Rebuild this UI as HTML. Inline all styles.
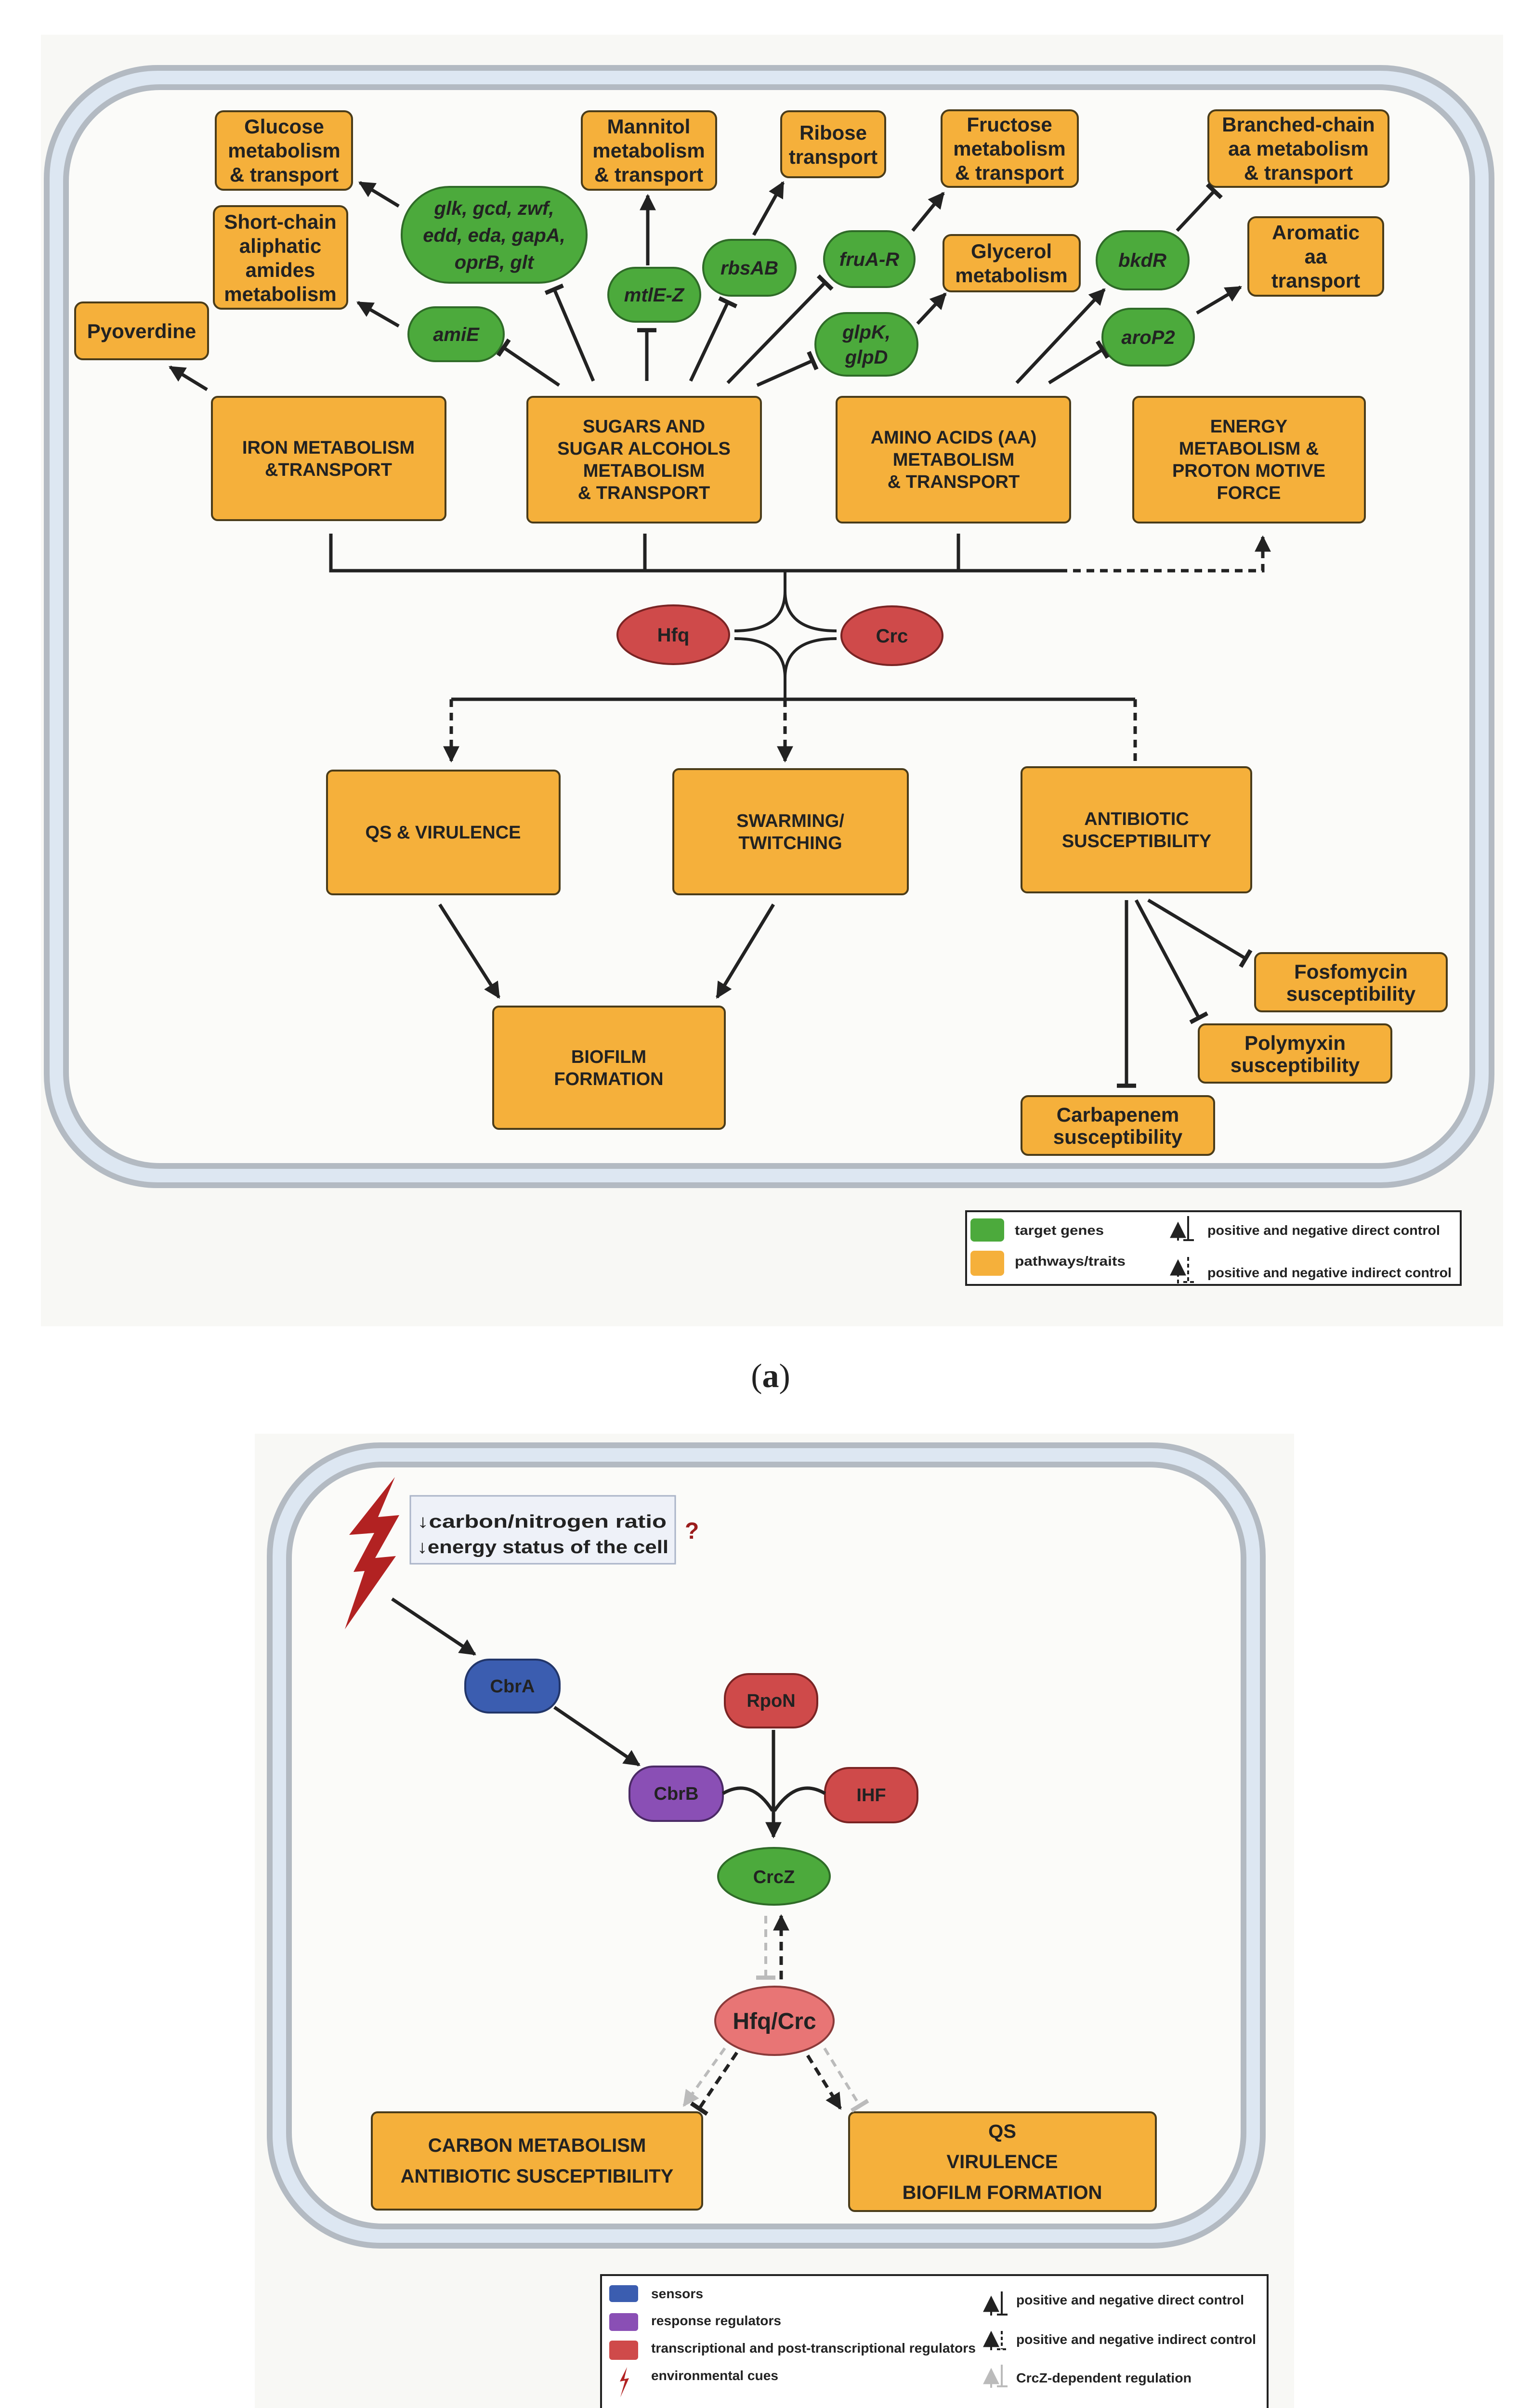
<!DOCTYPE html>
<html><head><meta charset="utf-8"><style>
html,body{margin:0;padding:0;background:#fff;width:3154px;height:5197px;overflow:hidden}
svg{display:block}
text{font-family:"Liberation Sans",Arial,sans-serif;font-weight:bold;fill:#222}
</style></head><body>
<svg width="3154" height="5197" viewBox="0 0 3154 5197" xmlns="http://www.w3.org/2000/svg">
<defs>
<marker id="ar" viewBox="0 0 10 10" refX="9" refY="5" markerWidth="34" markerHeight="34" markerUnits="userSpaceOnUse" orient="auto"><path d="M0,0 L10,5 L0,10 z" fill="#222"/></marker>
<marker id="tb" viewBox="0 0 10 10" refX="8" refY="5" markerWidth="40" markerHeight="40" markerUnits="userSpaceOnUse" orient="auto"><rect x="7" y="0" width="2.2" height="10" fill="#222"/></marker>
<marker id="arg" viewBox="0 0 10 10" refX="9" refY="5" markerWidth="34" markerHeight="34" markerUnits="userSpaceOnUse" orient="auto"><path d="M0,0 L10,5 L0,10 z" fill="#bbb"/></marker>
<marker id="tbg" viewBox="0 0 10 10" refX="8" refY="5" markerWidth="40" markerHeight="40" markerUnits="userSpaceOnUse" orient="auto"><rect x="7" y="0" width="2.2" height="10" fill="#bbb"/></marker>
</defs>

<!-- ===== PANEL A ===== -->
<rect x="85" y="72" width="3036" height="2682" fill="#f8f8f5"/>
<rect x="97" y="141" width="3000" height="2320" rx="230" fill="#dde7f2" stroke="#b3bac2" stroke-width="12"/>
<rect x="137" y="181" width="2920" height="2240" rx="195" fill="#fbfbf9" stroke="#b3bac2" stroke-width="12"/>

<g fill="#f5b03b" stroke="#4a3c1a" stroke-width="4">
<rect x="448" y="231" width="283" height="163" rx="16"/>
<rect x="444" y="428" width="277" height="213" rx="16"/>
<rect x="156" y="628" width="276" height="118" rx="16"/>
<rect x="1208" y="231" width="279" height="163" rx="16"/>
<rect x="1622" y="231" width="216" height="137" rx="16"/>
<rect x="1955" y="229" width="283" height="159" rx="16"/>
<rect x="1959" y="488" width="283" height="117" rx="16"/>
<rect x="2509" y="229" width="374" height="159" rx="16"/>
<rect x="2592" y="451" width="280" height="163" rx="16"/>
<rect x="440" y="824" width="485" height="256" rx="12"/>
<rect x="1095" y="824" width="485" height="261" rx="12"/>
<rect x="1737" y="824" width="485" height="261" rx="12"/>
<rect x="2353" y="824" width="481" height="261" rx="12"/>
<rect x="679" y="1600" width="483" height="257" rx="12"/>
<rect x="1398" y="1597" width="487" height="260" rx="12"/>
<rect x="2121" y="1593" width="477" height="260" rx="12"/>
<rect x="1024" y="2090" width="481" height="254" rx="12"/>
<rect x="2606" y="1979" width="398" height="121" rx="14"/>
<rect x="2489" y="2127" width="400" height="121" rx="14"/>
<rect x="2121" y="2276" width="400" height="122" rx="14"/>
</g>
<g fill="#4caa3c" stroke="#2f6b28" stroke-width="4">
<rect x="834" y="388" width="384" height="199" rx="99"/>
<rect x="848" y="638" width="198" height="112" rx="56"/>
<rect x="1263" y="556" width="191" height="112" rx="56"/>
<rect x="1460" y="498" width="192" height="116" rx="58"/>
<rect x="1711" y="480" width="188" height="116" rx="58"/>
<rect x="1693" y="650" width="212" height="130" rx="65"/>
<rect x="2277" y="480" width="191" height="121" rx="60"/>
<rect x="2289" y="641" width="190" height="118" rx="59"/>
</g>
<g fill="#cf4a4a" stroke="#7a2424" stroke-width="4">
<ellipse cx="1398" cy="1318" rx="116" ry="61"/>
<ellipse cx="1852" cy="1320" rx="105" ry="61"/>
</g>

<g font-size="42" text-anchor="middle">
<text x="590" y="277">Glucose</text><text x="590" y="327">metabolism</text><text x="590" y="377">&amp; transport</text>
<text x="582" y="475">Short-chain</text><text x="582" y="525">aliphatic</text><text x="582" y="575">amides</text><text x="582" y="625">metabolism</text>
<text x="294" y="702">Pyoverdine</text>
<text x="1347" y="277">Mannitol</text><text x="1347" y="327">metabolism</text><text x="1347" y="377">&amp; transport</text>
<text x="1730" y="290">Ribose</text><text x="1730" y="340">transport</text>
<text x="2096" y="273">Fructose</text><text x="2096" y="323">metabolism</text><text x="2096" y="373">&amp; transport</text>
<text x="2100" y="536">Glycerol</text><text x="2100" y="586">metabolism</text>
<text x="2696" y="273">Branched-chain</text><text x="2696" y="323">aa metabolism</text><text x="2696" y="373">&amp; transport</text>
<text x="2732" y="497">Aromatic</text><text x="2732" y="547">aa</text><text x="2732" y="597">transport</text>
<text x="2805" y="2032">Fosfomycin</text><text x="2805" y="2078">susceptibility</text>
<text x="2689" y="2180">Polymyxin</text><text x="2689" y="2226">susceptibility</text>
<text x="2321" y="2329">Carbapenem</text><text x="2321" y="2375">susceptibility</text>
</g>
<g font-size="38" text-anchor="middle">
<text x="682" y="942">IRON METABOLISM</text><text x="682" y="988">&amp;TRANSPORT</text>
<text x="1337" y="898">SUGARS AND</text><text x="1337" y="944">SUGAR ALCOHOLS</text><text x="1337" y="990">METABOLISM</text><text x="1337" y="1036">&amp; TRANSPORT</text>
<text x="1980" y="921">AMINO ACIDS (AA)</text><text x="1980" y="967">METABOLISM</text><text x="1980" y="1013">&amp; TRANSPORT</text>
<text x="2593" y="898">ENERGY</text><text x="2593" y="944">METABOLISM &amp;</text><text x="2593" y="990">PROTON MOTIVE</text><text x="2593" y="1036">FORCE</text>
<text x="920" y="1741">QS &amp; VIRULENCE</text>
<text x="1641" y="1717">SWARMING/</text><text x="1641" y="1763">TWITCHING</text>
<text x="2360" y="1713">ANTIBIOTIC</text><text x="2360" y="1759">SUSCEPTIBILITY</text>
<text x="1264" y="2207">BIOFILM</text><text x="1264" y="2253">FORMATION</text>
</g>
<g font-size="40" text-anchor="middle" font-style="italic">
<text x="1026" y="446">glk, gcd, zwf,</text><text x="1026" y="502">edd, eda, gapA,</text><text x="1026" y="558">oprB, glt</text>
<text x="947" y="708">amiE</text>
<text x="1358" y="626">mtlE-Z</text>
<text x="1556" y="570">rbsAB</text>
<text x="1805" y="552">fruA-R</text>
<text x="1799" y="703">glpK,</text><text x="1799" y="755">glpD</text>
<text x="2372" y="554">bkdR</text>
<text x="2384" y="714">aroP2</text>
</g>
<g font-size="40" text-anchor="middle">
<text x="1398" y="1332">Hfq</text><text x="1852" y="1334">Crc</text>
</g>

<g stroke="#222" stroke-width="7" fill="none">
<line x1="828" y1="428" x2="747" y2="379" marker-end="url(#ar)"/>
<line x1="828" y1="677" x2="743" y2="628" marker-end="url(#ar)"/>
<line x1="430" y1="809" x2="353" y2="762" marker-end="url(#ar)"/>
<line x1="1161" y1="800" x2="1046" y2="722" marker-end="url(#tb)"/>
<line x1="1232" y1="791" x2="1151" y2="601" marker-end="url(#tb)"/>
<line x1="1343" y1="791" x2="1343" y2="686" marker-end="url(#tb)"/>
<line x1="1345" y1="551" x2="1345" y2="406" marker-end="url(#ar)"/>
<line x1="1434" y1="791" x2="1511" y2="628" marker-end="url(#tb)"/>
<line x1="1565" y1="488" x2="1626" y2="379" marker-end="url(#ar)"/>
<line x1="1511" y1="795" x2="1713" y2="587" marker-end="url(#tb)"/>
<line x1="1895" y1="479" x2="1959" y2="401" marker-end="url(#ar)"/>
<line x1="1572" y1="800" x2="1687" y2="749" marker-end="url(#tb)"/>
<line x1="1905" y1="672" x2="1963" y2="610" marker-end="url(#ar)"/>
<line x1="2111" y1="795" x2="2293" y2="601" marker-end="url(#ar)"/>
<line x1="2444" y1="479" x2="2521" y2="397" marker-end="url(#tb)"/>
<line x1="2178" y1="795" x2="2289" y2="726" marker-end="url(#tb)"/>
<line x1="2485" y1="650" x2="2576" y2="596" marker-end="url(#ar)"/>
<line x1="913" y1="1878" x2="1036" y2="2071" marker-end="url(#ar)"/>
<line x1="1606" y1="1878" x2="1489" y2="2071" marker-end="url(#ar)"/>
<line x1="2339" y1="1869" x2="2339" y2="2254" marker-end="url(#tb)"/>
<line x1="2359" y1="1869" x2="2489" y2="2113" marker-end="url(#tb)"/>
<line x1="2384" y1="1869" x2="2586" y2="1990" marker-end="url(#tb)"/>
<!-- bus top -->
<path d="M687,1108 V1185 H2200"/>
<line x1="1339" y1="1108" x2="1339" y2="1185"/>
<line x1="1990" y1="1108" x2="1990" y2="1185"/>
<path d="M2200,1185 H2622 V1115" stroke-dasharray="16,12" marker-end="url(#ar)"/>
<!-- star -->
<path d="M1630,1185 V1227 Q1630,1310 1525,1310" stroke-width="6"/>
<path d="M1630,1452 V1407 Q1630,1326 1525,1326" stroke-width="6"/>
<path d="M1630,1227 Q1630,1310 1737,1310" stroke-width="6"/>
<path d="M1630,1407 Q1630,1326 1737,1326" stroke-width="6"/>
<path d="M937,1452 H2357"/>
<line x1="937" y1="1452" x2="937" y2="1580" stroke-dasharray="16,12" marker-end="url(#ar)"/>
<line x1="1630" y1="1452" x2="1630" y2="1580" stroke-dasharray="16,12" marker-end="url(#ar)"/>
<line x1="2357" y1="1452" x2="2357" y2="1590" stroke-dasharray="16,12"/>
</g>

<!-- legend a -->
<rect x="2006" y="2515" width="1027" height="153" fill="#fff" stroke="#222" stroke-width="4"/>
<rect x="2015" y="2530" width="70" height="48" rx="8" fill="#4caa3c"/>
<rect x="2015" y="2597" width="70" height="52" rx="8" fill="#f5b03b"/>
<g font-size="28">
<text x="2107" y="2564" textLength="185" lengthAdjust="spacingAndGlyphs">target genes</text>
<text x="2107" y="2628" textLength="230" lengthAdjust="spacingAndGlyphs">pathways/traits</text>
<text x="2507" y="2564" textLength="483" lengthAdjust="spacingAndGlyphs">positive and negative direct control</text>
<text x="2507" y="2652" textLength="507" lengthAdjust="spacingAndGlyphs">positive and negative indirect control</text>
</g>
<g stroke="#222" stroke-width="4" fill="none">
<line x1="2446" y1="2576" x2="2446" y2="2540" marker-end="url(#ar)"/>
<path d="M2467,2525 V2575 M2457,2575 H2479"/>
<line x1="2446" y1="2665" x2="2446" y2="2618" stroke-dasharray="8,6" marker-end="url(#ar)"/>
<path d="M2467,2610 V2662 M2457,2662 H2479" stroke-dasharray="8,6"/>
</g>

<text x="1600" y="2880" font-size="70" text-anchor="middle" style="font-family:'Liberation Serif',serif;font-weight:normal">(<tspan font-weight="bold">a</tspan>)</text>

<!-- ===== PANEL B ===== -->
<rect x="529" y="2977" width="2158" height="2052" fill="#f8f8f5"/>
<rect x="560" y="3001" width="2062" height="1662" rx="230" fill="#dde7f2" stroke="#b3bac2" stroke-width="12"/>
<rect x="600" y="3041" width="1982" height="1582" rx="195" fill="#fbfbf9" stroke="#b3bac2" stroke-width="12"/>

<polygon points="820,3067 785,3150 829,3146 779,3235 822,3231 716,3383 757,3262 734,3264 777,3183 725,3187" fill="#b22222"/>
<rect x="852" y="3106" width="550" height="141" fill="#eef1f8" stroke="#aab4c8" stroke-width="3"/>
<text x="866" y="3172" font-size="38" textLength="518" lengthAdjust="spacingAndGlyphs">↓carbon/nitrogen ratio</text>
<text x="866" y="3225" font-size="38" textLength="522" lengthAdjust="spacingAndGlyphs">↓energy status of the cell</text>
<text x="1422" y="3195" font-size="48" style="fill:#9b1c1c">?</text>

<rect x="966" y="3446" width="196" height="110" rx="50" fill="#3b5db0" stroke="#22366a" stroke-width="4"/>
<rect x="1505" y="3476" width="192" height="111" rx="50" fill="#cf4a4a" stroke="#7a2424" stroke-width="4"/>
<rect x="1307" y="3668" width="194" height="113" rx="50" fill="#8a4fb5" stroke="#4b2a66" stroke-width="4"/>
<rect x="1713" y="3671" width="192" height="113" rx="50" fill="#cf4a4a" stroke="#7a2424" stroke-width="4"/>
<ellipse cx="1607" cy="3896" rx="116" ry="59" fill="#4caa3c" stroke="#2f6b28" stroke-width="4"/>
<ellipse cx="1608" cy="4196" rx="123" ry="71" fill="#e87575" stroke="#8a3a3a" stroke-width="4"/>
<g font-size="38" text-anchor="middle">
<text x="1064" y="3514">CbrA</text><text x="1601" y="3544">RpoN</text><text x="1404" y="3737">CbrB</text><text x="1809" y="3740">IHF</text><text x="1607" y="3910">CrcZ</text>
<text x="1608" y="4213" font-size="48">Hfq/Crc</text>
</g>
<rect x="772" y="4386" width="686" height="202" rx="12" fill="#f5b03b" stroke="#4a3c1a" stroke-width="4"/>
<rect x="1763" y="4386" width="637" height="205" rx="12" fill="#f5b03b" stroke="#4a3c1a" stroke-width="4"/>
<g font-size="40" text-anchor="middle">
<text x="1115" y="4468">CARBON METABOLISM</text><text x="1115" y="4532">ANTIBIOTIC SUSCEPTIBILITY</text>
<text x="2081" y="4439">QS</text><text x="2081" y="4502">VIRULENCE</text><text x="2081" y="4566">BIOFILM FORMATION</text>
</g>
<g stroke="#222" stroke-width="7" fill="none">
<line x1="814" y1="3320" x2="986" y2="3435" marker-end="url(#ar)"/>
<line x1="1151" y1="3545" x2="1327" y2="3665" marker-end="url(#ar)"/>
<line x1="1606" y1="3592" x2="1606" y2="3814" marker-end="url(#ar)"/>
<path d="M1501,3724 Q1560,3690 1604,3760"/>
<path d="M1713,3724 Q1655,3690 1608,3760"/>
<line x1="1622" y1="4110" x2="1622" y2="3978" stroke-dasharray="18,12" marker-end="url(#ar)"/>
<line x1="1530" y1="4262" x2="1452" y2="4378" stroke-dasharray="18,12" marker-end="url(#tb)"/>
<line x1="1677" y1="4268" x2="1745" y2="4378" stroke-dasharray="18,12" marker-end="url(#ar)"/>
</g>
<g stroke="#bbb" stroke-width="6" fill="none">
<line x1="1590" y1="3978" x2="1590" y2="4106" stroke-dasharray="16,12" marker-end="url(#tbg)"/>
<line x1="1505" y1="4253" x2="1420" y2="4372" stroke-dasharray="16,12" marker-end="url(#arg)"/>
<line x1="1712" y1="4253" x2="1785" y2="4372" stroke-dasharray="16,12" marker-end="url(#tbg)"/>
</g>

<!-- legend b -->
<rect x="1248" y="4724" width="1384" height="283" fill="#fff" stroke="#222" stroke-width="4"/>
<rect x="1265" y="4745" width="60" height="35" rx="6" fill="#3b5db0"/>
<rect x="1265" y="4803" width="60" height="37" rx="6" fill="#8a4fb5"/>
<rect x="1265" y="4860" width="60" height="40" rx="6" fill="#cf4a4a"/>
<polygon points="1302,4915 1287,4945 1298,4943 1288,4978 1306,4938 1296,4940" fill="#b22222"/>
<g font-size="28">
<text x="1352" y="4772" textLength="108" lengthAdjust="spacingAndGlyphs">sensors</text>
<text x="1352" y="4828" textLength="270" lengthAdjust="spacingAndGlyphs">response regulators</text>
<text x="1352" y="4885" textLength="674" lengthAdjust="spacingAndGlyphs">transcriptional and post-transcriptional regulators</text>
<text x="1352" y="4942" textLength="264" lengthAdjust="spacingAndGlyphs">environmental cues</text>
<text x="2110" y="4785" textLength="473" lengthAdjust="spacingAndGlyphs">positive and negative direct control</text>
<text x="2110" y="4867" textLength="498" lengthAdjust="spacingAndGlyphs">positive and negative indirect control</text>
<text x="2110" y="4947" textLength="364" lengthAdjust="spacingAndGlyphs">CrcZ-dependent regulation</text>
</g>
<g stroke-width="4" fill="none">
<line x1="2058" y1="4808" x2="2058" y2="4770" stroke="#222" marker-end="url(#ar)"/>
<path d="M2080,4758 V4806 M2070,4806 H2092" stroke="#222"/>
<line x1="2058" y1="4880" x2="2058" y2="4843" stroke="#222" stroke-dasharray="7,5" marker-end="url(#ar)"/>
<path d="M2080,4840 V4878 M2070,4878 H2092" stroke="#222" stroke-dasharray="7,5"/>
<line x1="2058" y1="4958" x2="2058" y2="4920" stroke="#bbb" marker-end="url(#arg)"/>
<path d="M2080,4910 V4955 M2070,4955 H2092" stroke="#bbb"/>
</g>

<text x="1600" y="5160" font-size="70" text-anchor="middle" style="font-family:'Liberation Serif',serif;font-weight:normal">(<tspan font-weight="bold">b</tspan>)</text>
</svg>
</body></html>
